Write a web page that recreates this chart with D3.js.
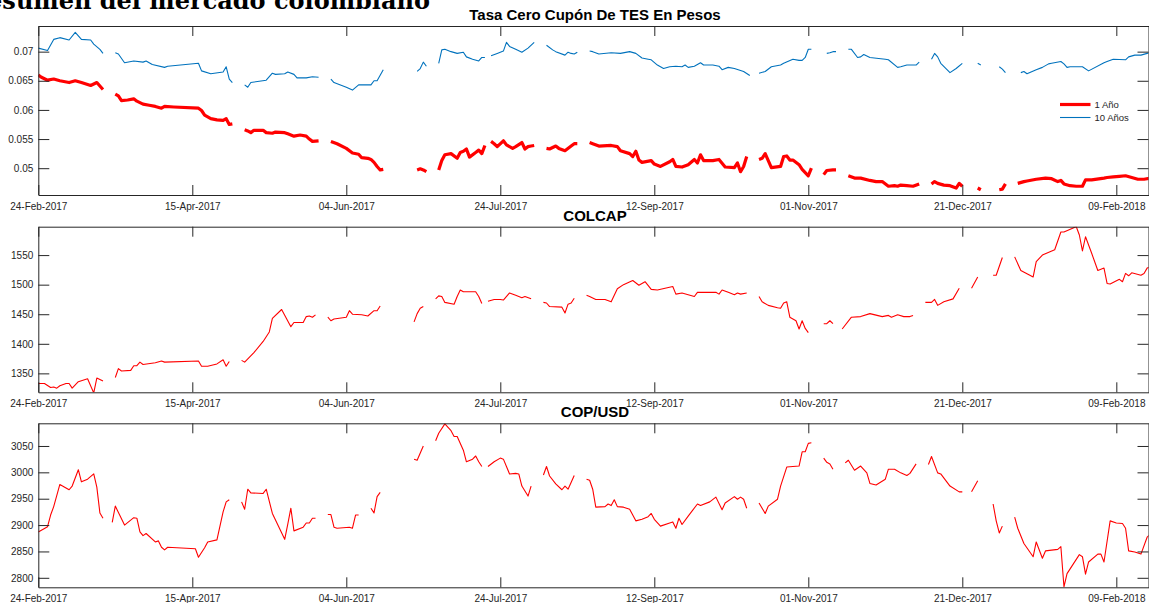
<!DOCTYPE html>
<html><head><meta charset="utf-8">
<script src="https://cdn.jsdelivr.net/npm/d3@7"></script>
<style>body{margin:0;background:#fff;overflow:hidden} svg{display:block}</style>
</head><body>
<script>
// ---------- DATA (day offsets since 24-Feb-2017, value; null = gap) ----------
const startDate = "2017-02-24";
const endDayOffset = 360.45;
const headline = "Resumen del mercado colombiano";
const titles = ["Tasa Cero Cupón De TES En Pesos", "COLCAP", "COP/USD"];
const legendLabels = ["1 Año", "10 Años"];
const xTickLabels = ["24-Feb-2017","15-Apr-2017","04-Jun-2017","24-Jul-2017","12-Sep-2017","01-Nov-2017","21-Dec-2017","09-Feb-2018"];
const tesTicks = [0.05, 0.055, 0.06, 0.065, 0.07];
const tesTickLabels = ["0.05","0.055","0.06","0.065","0.07"];
const colcapTicks = [1350, 1400, 1450, 1500, 1550];
const copTicks = [2800, 2850, 2900, 2950, 3000, 3050];
const tesDomain = [0.0454, 0.0744];
const colcapDomain = [1318, 1598];
const copDomain = [2782, 3093];

const tes1 = [
 [0,.0660],[1,.0656],[3,.0651],[5,.0653],[7,.0650],[10,.0647],[12,.0650],[14,.0647],[17,.0642],[19,.0647],[21,.0635],[23,null],
 [25,.0627],[26,.0624],[27,.0616],[29,.0617],[31,.0619],[32,.0615],[34,.0610],[36,.0608],[38,.0606],[40,.0603],[41,.0606],[44,.0605],[52,.0603],[53,.0599],[54,.0591],[56,.0585],[58,.0583],[60,.0582],[61,.0585],[62,.0575],[63,.0576],[65,null],
 [67,.0566],[68,.0564],[69,.0561],[70,.0565],[73,.0565],[74,.0561],[76,.0560],[77,.0562],[80,.0561],[81,.0559],[82,.0557],[83,.0555],[85,.0557],[87,.0555],[88,.0550],[89,.0546],[91,.0547],[93,null],
 [95,.0546],[97,.0542],[100,.0534],[102,.0526],[104,.0524],[105,.0518],[107,.0517],[108,.0515],[109,.0510],[110,.0503],[111,.0497],[112,.0498],[117,null],
 [123,.0497],[124,.0499],[125,.0497],[126,.0494],[128,null],
 [130,.0497],[131,.0513],[132,.0523],[134,.0525],[136,.0517],[137,.0527],[138,.0529],[139,.0533],[140,.0519],[142,.0527],[143,.0531],[144,.0525],[145,.0539],[146,null],
 [147,.0546],[148,.0542],[149,.0537],[151,.0547],[152,.0540],[154,.0534],[155,.0537],[157,.0544],[158,.0533],[159,.0537],[160,.0538],[161,.0539],[163,null],
 [165,.0534],[166,.0533],[168,.0538],[169,.0534],[171,.0530],[173,.0538],[174,.0542],[175,.0542],[177,null],
 [179,.0544],[180,.0542],[182,.0538],[186,.0539],[188,.0537],[189,.0530],[192,.0525],[193,.0520],[194,.0529],[195,.0514],[196,.0510],[199,.0513],[200,.0507],[202,.0503],[205,.0511],[206,.0515],[207,.0503],[209,.0502],[211,.0506],[213,.0515],[214,.0509],[215,.0523],[216,.0513],[219,.0513],[221,.0515],[223,.0502],[226,.0501],[227,.0509],[228,.0494],[229,.0503],[230,.0520],[232,null],
 [234,.0515],[235,.0517],[236,.0525],[238,.0501],[241,.0503],[242,.0520],[243,.0521],[244,.0514],[245,.0514],[247,.0506],[248,.0498],[250,.0487],[251,.0500],[253,null],
 [255,.0489],[256,.0496],[258,.0497],[259,.0497],[261,null],
 [263,.0487],[265,.0483],[267,.0483],[270,.0479],[272,.0477],[274,.0477],[276,.0469],[278,.0470],[279,.0469],[280,.0471],[282,.0470],[284,.0469],[286,.0473],[288,null],
 [290,.0473],[291,.0477],[292,.0474],[294,.0471],[296,.0470],[298,.0466],[299,.0474],[300,.0469],[302,null],
 [305,.0466],[306,.0463],[309,null],
 [312,.0463],[313,.0464],[314,.0473],[316,null],
 [318,.0474],[320,.0477],[321,.0478],[324,.0481],[327,.0483],[329,.0482],[331,.0477],[332,.0479],[333,.0473],[335,.0470],[337,.0469],[339,.0469],[340,.0480],[342,.0480],[346,.0483],[347,.0484],[349,.0485],[351,.0486],[353,.0487],[355,.0484],[357,.0481],[359,.0481],[361,.0483]
];

const tes10 = [
 [0,.0706],[3,.0702],[5,.0721],[7,.0724],[10,.0720],[12,.0733],[14,.0721],[17,.0720],[18,.0713],[20,.0704],[21,.0697],[23,null],
 [25,.0698],[26,.0696],[28,.0681],[31,.0684],[34,.0682],[35,.0684],[37,.0678],[41,.0673],[42,.0675],[52,.0680],[53,.0667],[56,.0662],[60,.0665],[61,.0674],[62,.0653],[63,.0647],[65,null],
 [67,.0643],[68,.0639],[69,.0647],[74,.0651],[76,.0663],[77,.0661],[80,.0662],[81,.0665],[83,.0661],[84,.0655],[87,.0655],[89,.0657],[91,.0656],[93,null],
 [95,.0653],[96,.0647],[100,.0639],[102,.0634],[104,.0643],[108,.0643],[109,.0650],[110,.0650],[112,.0669],[117,null],
 [123,.0666],[124,.0671],[125,.0682],[126,.0675],[128,null],
 [130,.0680],[131,.0703],[132,.0704],[134,.0700],[136,.0697],[138,.0699],[139,.0691],[141,.0687],[143,.0684],[144,.0690],[145,.0690],[146,null],
 [147,.0693],[149,.0697],[151,.0701],[152,.0716],[153,.0709],[155,.0704],[157,.0699],[159,.0706],[161,.0716],[163,null],
 [165,.0711],[167,.0703],[168,.0700],[171,.0694],[172,.0699],[173,.0697],[174,.0696],[175,.0699],[177,null],
 [179,.0701],[180,.0700],[182,.0696],[186,.0698],[189,.0697],[192,.0700],[194,.0697],[196,.0689],[198,.0687],[199,.0686],[201,.0677],[203,.0671],[205,.0674],[207,.0675],[209,.0674],[210,.0677],[211,.0673],[213,.0675],[215,.0681],[216,.0677],[219,.0677],[221,.0675],[222,.0669],[224,.0673],[226,.0671],[229,.0666],[231,.0659],[233,null],
 [234,.0663],[236,.0666],[238,.0674],[241,.0677],[242,.0680],[245,.0687],[247,.0685],[248,.0685],[249,.0690],[250,.0704],[251,.0704],[253,null],
 [256,.0697],[257,.0698],[258,.0700],[259,.0700],[261,null],
 [263,.0704],[264,.0704],[266,.0690],[267,.0691],[268,.0695],[270,.0690],[275,.0687],[276,.0686],[279,.0673],[280,.0674],[282,.0677],[285,.0677],[286,.0682],[288,null],
 [290,.0687],[291,.0697],[292,.0691],[293,.0680],[296,.0664],[298,.0671],[300,.0680],[302,null],
 [305,.0680],[306,.0677],[309,null],
 [312,.0674],[313,.0670],[314,.0664],[316,null],
 [319,.0664],[320,.0666],[321,.0662],[324,.0669],[326,.0673],[328,.0679],[329,.0680],[332,.0683],[333,.0679],[334,.0673],[335,.0674],[339,.0674],[341,.0667],[346,.0681],[347,.0683],[349,.0687],[353,.0686],[354,.0691],[356,.0694],[358,.0694],[360,.0697],[361,.0698]
];

const colcap = [
 [0,1333],[2,1333],[4,1326],[5,1327],[6,1325],[7,1329],[9,1333],[10,1333],[11,1325],[13,1336],[16,1341],[18,1317],[19,1342],[21,1337],[23,null],
 [25,1343],[26,1358],[27,1354],[30,1355],[31,1363],[32,1363],[33,1369],[34,1365],[38,1368],[40,1371],[41,1369],[52,1371],[53,1362],[55,1362],[58,1366],[60,1373],[61,1362],[62,1370],[64,null],
 [66,1372],[67,1369],[70,1385],[73,1404],[75,1420],[76,1443],[79,1458],[82,1429],[83,1436],[86,1436],[87,1446],[88,1447],[89,1445],[90,1449],[92,null],
 [94,1445],[95,1439],[96,1442],[100,1445],[101,1456],[102,1450],[105,1449],[107,1447],[109,1456],[110,1456],[111,1464],[117,null],
 [122,1437],[123,1451],[124,1460],[125,1463],[127,null],
 [129,1476],[130,1481],[131,1480],[132,1470],[135,1467],[136,1480],[137,1491],[138,1488],[142,1488],[143,1480],[144,1468],[145,null],
 [146,1472],[148,1475],[150,1475],[151,1474],[153,1486],[155,1482],[157,1478],[158,1480],[160,1476],[162,null],
 [164,1470],[165,1469],[166,1463],[170,1462],[171,1452],[172,1467],[173,1469],[174,1477],[176,null],
 [178,1482],[179,1480],[181,1475],[184,1475],[186,1471],[188,1493],[190,1500],[193,1507],[195,1499],[197,1505],[199,1492],[201,1491],[206,1497],[207,1484],[209,1486],[213,1480],[214,1487],[220,1487],[221,1484],[222,1491],[224,1487],[226,1483],[227,1486],[228,1484],[230,1486],[232,null],
 [234,1480],[235,1471],[237,1465],[240,1461],[241,1460],[242,1469],[243,1471],[244,1445],[246,1439],[247,1425],[248,1439],[249,1426],[250,1419],[252,null],
 [255,1434],[256,1434],[257,1439],[258,1434],[260,null],
 [261,1425],[264,1445],[267,1446],[270,1451],[274,1446],[276,1448],[277,1445],[279,1449],[281,1446],[283,1446],[284,1448],[286,null],
 [288,1470],[290,1470],[291,1475],[292,1465],[294,1471],[297,1476],[299,1494],[301,null],
 [303,1494],[305,1513],[308,null],
 [310,1516],[311,1516],[313,1546],[315,null],
 [317,1547],[319,1524],[323,1513],[324,1539],[326,1550],[330,1559],[332,1589],[333,1589],[336,1596],[337,1598],[338,1584],[339,1557],[340,1581],[342,1553],[344,1524],[346,1528],[347,1502],[348,1501],[351,1509],[352,1505],[353,1519],[354,1515],[355,1520],[358,1516],[359,1519],[360,1528],[361,1530]
];

const copusd = [
 [0,2887],[3,2897],[4,2919],[5,2935],[7,2977],[10,2967],[11,2974],[13,3005],[14,2982],[16,2987],[18,2997],[19,2972],[20,2923],[21,2913],[23,null],
 [24,2905],[25,2936],[28,2900],[31,2914],[32,2913],[33,2887],[34,2880],[35,2884],[38,2868],[39,2870],[40,2858],[41,2853],[42,2858],[51,2855],[52,2839],[54,2857],[55,2868],[58,2872],[60,2925],[61,2944],[62,2948],[64,null],
 [66,2944],[67,2930],[68,2968],[69,2961],[73,2960],[74,2968],[76,2922],[80,2873],[81,2902],[82,2932],[83,2889],[86,2896],[87,2904],[88,2904],[89,2913],[90,2913],[92,null],
 [94,2920],[95,2920],[96,2896],[97,2894],[101,2896],[102,2894],[103,2919],[104,2919],[106,null],
 [108,2932],[109,2923],[110,2954],[111,2962],[117,null],
 [122,3025],[123,3023],[125,3050],[127,null],
 [129,3060],[130,3074],[132,3092],[134,3079],[135,3068],[136,3068],[138,3042],[139,3020],[141,3025],[142,3031],[143,3020],[144,3011],[145,null],
 [146,3011],[148,3020],[150,3027],[151,3025],[153,2997],[155,2998],[156,2997],[157,2974],[159,2955],[160,2974],[162,null],
 [164,2995],[165,3011],[166,2993],[168,2978],[170,2967],[171,2974],[172,2968],[174,2994],[176,null],
 [178,2987],[179,2985],[180,2968],[181,2934],[184,2935],[185,2940],[186,2937],[187,2948],[188,2935],[190,2934],[192,2930],[194,2908],[196,2911],[198,2916],[199,2922],[200,2911],[202,2898],[205,2904],[206,2906],[207,2894],[208,2913],[209,2901],[211,2917],[214,2940],[215,2937],[218,2944],[220,2953],[222,2929],[223,2942],[226,2954],[227,2949],[228,2953],[229,2949],[230,2932],[232,null],
 [234,2942],[236,2922],[237,2936],[240,2949],[241,2974],[243,3010],[247,3012],[248,3039],[249,3039],[250,3055],[251,3056],[253,null],
 [255,3027],[256,3019],[257,3016],[258,3006],[260,null],
 [262,3018],[263,3023],[265,3004],[267,3012],[269,2999],[270,2979],[272,2976],[275,2987],[276,3006],[278,3006],[280,2999],[282,2994],[283,2998],[285,3016],[287,null],
 [289,3015],[290,3030],[292,2999],[293,2997],[296,2974],[299,2963],[300,2963],[302,null],
 [303,2963],[305,2984],[308,null],
 [310,2940],[311,2908],[312,2885],[313,2898],[315,null],
 [317,2915],[318,2894],[320,2865],[323,2840],[324,2868],[326,2837],[327,2851],[331,2854],[332,2859],[333,2783],[334,2808],[338,2844],[339,2840],[340,2807],[341,2830],[344,2845],[345,2845],[346,2830],[348,2908],[350,2904],[352,2903],[353,2894],[354,2851],[356,2849],[358,2845],[360,2877],[361,2882]
];

// ---------- RENDER ----------
const W = 1149, H = 603;
const svg = d3.select("body").append("svg").attr("width", W).attr("height", H);
const fontSans = "'Liberation Sans', Arial, Helvetica, sans-serif";
const axisColor = "#262626";

const t0 = d3.utcParse("%Y-%m-%d")(startDate);
const toDate = d => new Date(t0.getTime() + d * 864e5);
const parseTick = d3.utcParse("%d-%b-%Y");
const xTicks = xTickLabels.map(parseTick);
const x = d3.scaleUtc().domain([t0, toDate(endDayOffset)]).range([38.3, 1148.5]);

// headline (cut off at the top of the picture, as in the source image)
svg.append("text").attr("x", 430).attr("y", 8.5).attr("text-anchor", "end")
  .attr("font-family", "'DejaVu Serif', 'Liberation Serif', serif").attr("font-weight", "bold")
  .attr("font-size", 24).attr("fill", "#000").text(headline);

const panels = [
  {top: 26, bottom: 195, domain: tesDomain, ticks: tesTicks, tickLabels: tesTickLabels, title: titles[0],
   series: [{data: tes1, color: "#ff0000", width: 3.2}, {data: tes10, color: "#0072BD", width: 1.1}]},
  {top: 226.7, bottom: 392.3, domain: colcapDomain, ticks: colcapTicks, tickLabels: colcapTicks.map(String), title: titles[1],
   series: [{data: colcap, color: "#ff0000", width: 1.1}]},
  {top: 423.3, bottom: 587.3, domain: copDomain, ticks: copTicks, tickLabels: copTicks.map(String), title: titles[2],
   series: [{data: copusd, color: "#ff0000", width: 1.1}]}
];

panels.forEach((p, i) => {
  const y = d3.scaleLinear().domain(p.domain).range([p.bottom, p.top]);
  const g = svg.append("g");
  const clipId = "clip" + i;
  svg.append("clipPath").attr("id", clipId).append("rect")
    .attr("x", 38.3).attr("y", p.top).attr("width", 1148.5 - 38.3).attr("height", p.bottom - p.top);

  const line = d3.line().defined(d => d[1] != null).x(d => x(toDate(d[0]))).y(d => y(d[1]));
  p.series.forEach(s => {
    g.append("path").datum(s.data).attr("clip-path", `url(#${clipId})`)
      .attr("fill", "none").attr("stroke", s.color).attr("stroke-width", s.width)
      .attr("stroke-linejoin", "round").attr("stroke-linecap", "butt").attr("d", line);
  });

  const fmt = d3.utcFormat("%d-%b-%Y");
  const bottomAxis = d3.axisBottom(x).tickValues(xTicks).tickFormat(fmt).tickSizeInner(-10).tickSizeOuter(0).tickPadding(7.4);
  const topAxis = d3.axisTop(x).tickValues(xTicks).tickFormat("").tickSizeInner(-10).tickSizeOuter(0);
  const leftAxis = d3.axisLeft(y).tickValues(p.ticks).tickFormat((d, k) => p.tickLabels[k]).tickSizeInner(-11).tickSizeOuter(0).tickPadding(5);
  const rightAxis = d3.axisRight(y).tickValues(p.ticks).tickFormat("").tickSizeInner(-11).tickSizeOuter(0);

  const gb = g.append("g").attr("transform", `translate(0,${p.bottom})`).call(bottomAxis);
  const gt = g.append("g").attr("transform", `translate(0,${p.top})`).call(topAxis);
  const gl = g.append("g").attr("transform", `translate(38.3,0)`).call(leftAxis);
  const gr = g.append("g").attr("transform", `translate(1148.5,0)`).call(rightAxis);
  [gb, gt, gl, gr].forEach(a => {
    a.selectAll("path.domain").attr("stroke", axisColor).attr("stroke-width", 1);
    a.selectAll(".tick line").attr("stroke", axisColor).attr("stroke-width", 1);
    a.selectAll("text").attr("fill", axisColor).attr("font-family", fontSans).attr("font-size", 10);
  });

  svg.append("text").attr("x", 595).attr("y", p.top - 6).attr("text-anchor", "middle")
    .attr("font-family", fontSans).attr("font-weight", "bold").attr("font-size", 15)
    .attr("fill", "#000").text(p.title);

  if (i === 0) {
    const lg = svg.append("g");
    p.series.forEach((s, k) => {
      const ly = 104.5 + k * 13;
      lg.append("line").attr("x1", 1060).attr("x2", 1090.5).attr("y1", ly).attr("y2", ly)
        .attr("stroke", s.color).attr("stroke-width", s.width);
      lg.append("text").attr("x", 1094.5).attr("y", ly).attr("dy", "0.35em")
        .attr("font-family", fontSans).attr("font-size", 9.5).attr("fill", "#262626").text(legendLabels[k]);
    });
  }
});
</script>
</body></html>
